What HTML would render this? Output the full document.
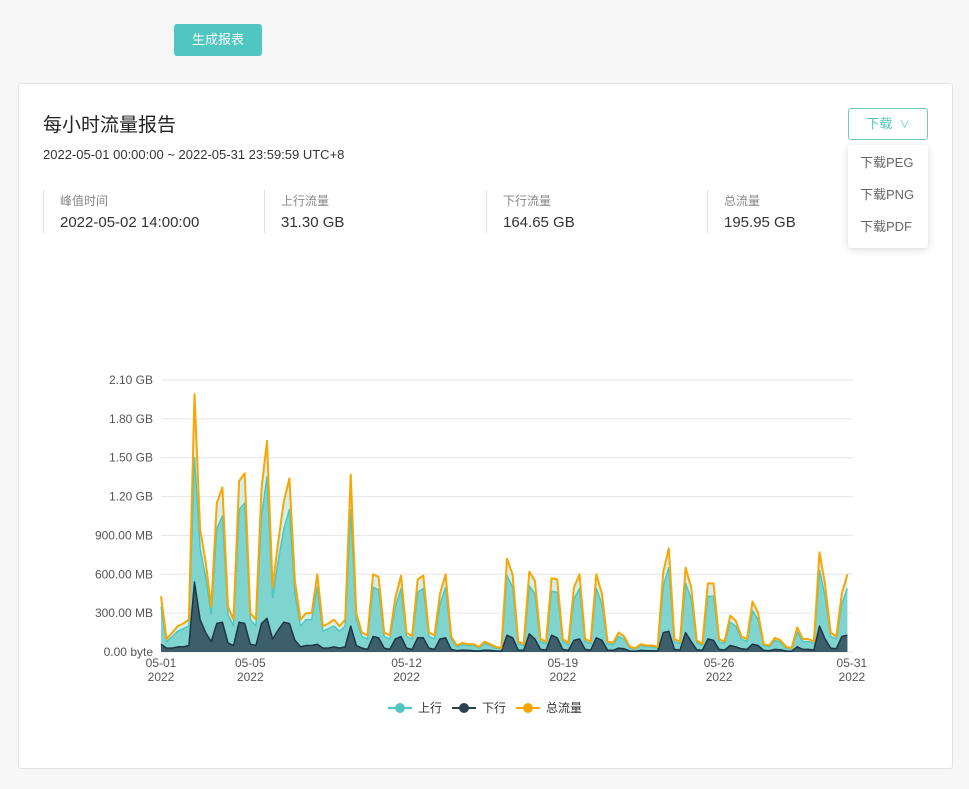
<!DOCTYPE html>
<html><head><meta charset="utf-8">
<style>
body{margin:0;width:969px;height:789px;background:#f7f7f7;font-family:"Liberation Sans","Noto Sans CJK SC",sans-serif;position:relative;overflow:hidden;color:#333}
.abs{position:absolute}
#gen{left:174px;top:24px;width:88px;height:32px;background:#4fc6bf;color:#fff;border-radius:3px;font-size:13px;line-height:32px;text-align:center}
#card{left:18px;top:83px;width:933px;height:684px;background:#fff;border:1px solid #e2e2e2;border-radius:3px}
.stat{top:190px;height:43px;border-left:1px solid #e2e2e2;padding-left:16px}
.stat .l{font-size:12px;color:#888;margin-top:2px}
.stat .v{font-size:15px;color:#333;margin-top:5px}
#dl{left:848px;top:108px;width:78px;height:30px;border:1px solid #6fcdc7;border-radius:3px;color:#4fc6bf;font-size:13px;line-height:30px;text-align:center}
#menu{left:848px;top:145px;width:80px;height:103px;background:#fff;box-shadow:0 2px 8px rgba(0,0,0,.15);border-radius:3px}
#menu div{height:32px;line-height:32px;font-size:13px;color:#666;padding-left:12px}
</style></head><body>
<div id="gen" class="abs">生成报表</div>
<div id="card" class="abs"></div>
<div class="abs" style="left:43px;top:110px;font-size:19px;color:#222">每小时流量报告</div>
<div class="abs" style="left:43px;top:147px;font-size:13px;color:#333">2022-05-01 00:00:00 ~ 2022-05-31 23:59:59 UTC+8</div>
<div class="abs stat" style="left:43px"><div class="l">峰值时间</div><div class="v">2022-05-02 14:00:00</div></div>
<div class="abs stat" style="left:264px"><div class="l">上行流量</div><div class="v">31.30 GB</div></div>
<div class="abs stat" style="left:486px"><div class="l">下行流量</div><div class="v">164.65 GB</div></div>
<div class="abs stat" style="left:707px"><div class="l">总流量</div><div class="v">195.95 GB</div></div>
<div id="dl" class="abs">下载 &nbsp;<span style="font-size:10px">&#8744;</span></div>
<div id="menu" class="abs">
<div style="margin-top:2px">下载PEG</div>
<div>下载PNG</div>
<div>下载PDF</div>
</div>
<svg id="chart" class="abs" style="left:0;top:0" width="969" height="789"></svg>
<script>
const yTicks=[0,300,600,900,1200,1500,1800,2100];
const yTickLabels=["0.00 byte","300.00 MB","600.00 MB","900.00 MB","1.20 GB","1.50 GB","1.80 GB","2.10 GB"];
const xTickDays=[0,4,11,18,25,30.95];
const xTickLabels=["05-01","05-05","05-12","05-19","05-26","05-31"];
const totalMB=[430,100,150,200, 220,250,1990,950, 700,350,1150,1270, 350,250,1320,1380, 300,250,1260,1630, 500,850,1160,1340, 550,250,300,300, 600,200,220,250, 200,250,1370,300, 150,130,600,580, 150,130,420,590, 150,120,560,590, 150,130,450,600, 120,50,70,60, 60,40,80,60, 40,30,720,600, 80,60,620,550, 100,80,570,560, 100,70,500,600, 100,80,600,450, 80,70,150,120, 40,30,60,50, 50,40,620,800, 100,80,650,500, 90,60,530,530, 100,80,280,240, 120,100,390,300, 60,50,110,90, 40,30,190,100, 100,80,770,520, 150,120,450,600];
const upMB=[350,80,120,160, 180,200,1500,800, 580,290,950,1050, 290,200,1100,1150, 250,200,1050,1350, 420,700,950,1100, 450,200,250,250, 500,160,180,200, 160,200,1100,250, 120,100,500,480, 120,100,350,490, 120,100,460,490, 120,100,370,500, 100,40,55,50, 50,30,65,50, 30,25,590,500, 65,50,510,450, 80,65,470,460, 80,55,410,490, 80,65,490,370, 65,55,120,100, 30,25,50,40, 40,30,510,650, 80,65,530,410, 75,50,430,430, 80,65,230,200, 100,80,320,250, 50,40,90,75, 30,25,155,80, 80,65,630,430, 120,100,370,490];
const downMB=[60,30,30,40, 40,50,540,250, 150,80,220,230, 70,50,230,220, 60,50,220,260, 100,170,230,220, 90,40,50,50, 60,30,30,40, 30,40,200,50, 30,20,120,110, 30,20,100,120, 30,20,110,110, 30,20,100,110, 20,10,15,12, 10,8,15,12, 8,6,130,110, 15,12,140,100, 20,15,130,110, 20,12,90,100, 20,15,110,90, 15,12,30,25, 8,6,12,10, 10,8,150,160, 20,15,150,80, 18,12,100,90, 20,15,50,40, 25,20,60,50, 12,10,20,18, 8,6,40,20, 20,15,200,100, 30,25,120,130];
const legendNames=["上行","下行","总流量"];
const NS="http://www.w3.org/2000/svg";
const svg=document.getElementById('chart');
const x0=161,x1=853,y0=652,yTop=380,days=31;
const xs=d=>x0+d/days*(x1-x0);
const ys=v=>y0-v/2100*(y0-yTop);
const idxDay=i=>i*0.25;
function mk(t,a){const e=document.createElementNS(NS,t);for(const k in a)e.setAttribute(k,a[k]);svg.appendChild(e);return e;}
yTicks.forEach((v,i)=>{
 const g=mk('line',{x1:x0,x2:x1,y1:ys(v),y2:ys(v),stroke:'#e6e6e6','stroke-width':1});
 
 
 const t=mk('text',{x:153,y:ys(v)+4,'text-anchor':'end','font-size':12,fill:'#555'});
 t.textContent=yTickLabels[i];
 
 
});
xTickDays.forEach((d,i)=>{
 const t=mk('text',{x:xs(d),y:667,'text-anchor':'middle','font-size':12,fill:'#555'});
 t.textContent=xTickLabels[i];
 
 
 const t2=mk('text',{x:xs(d),y:681,'text-anchor':'middle','font-size':12,fill:'#555'});
 t2.textContent='2022';
 
 
});
function pts(arr){return arr.map((v,i)=>xs(idxDay(i)).toFixed(1)+','+ys(v).toFixed(1));}
function area(arr,fill,name){
 const p=pts(arr);
 const a=mk('path',{d:'M'+xs(0)+','+y0+' L'+p.join(' L')+' L'+xs(idxDay(arr.length-1))+','+y0+' Z',fill:fill});
 
 
}
function line(arr,stroke,w,name){
 const l=mk('polyline',{points:pts(arr).join(' '),fill:'none',stroke:stroke,'stroke-width':w,'stroke-linejoin':'round'});
 
 
}
area(totalMB,'rgba(125,211,208,0.35)','total-area');
area(upMB,'#7fd4d0','upload-area');
line(upMB,'#4fc6bf',1.5,'upload-line');
area(downMB,'#3d5f6b','download-area');
line(downMB,'#1f3444',1.5,'download-line');
line(totalMB,'#f9a602',2,'total-line');
const lc=['#4fc6bf','#2b4252','#f9a602'];
const lx=[388,452,516];
legendNames.forEach((n,i)=>{
 const l=mk('line',{x1:lx[i],x2:lx[i]+24,y1:708,y2:708,stroke:lc[i],'stroke-width':2});
 
 
 const c=mk('circle',{cx:lx[i]+12,cy:708,r:5,fill:lc[i]});
 
 
 const t=mk('text',{x:lx[i]+30,y:712,'font-size':12,fill:'#333'});
 t.textContent=n;
 
 
});
</script>
</body></html>
